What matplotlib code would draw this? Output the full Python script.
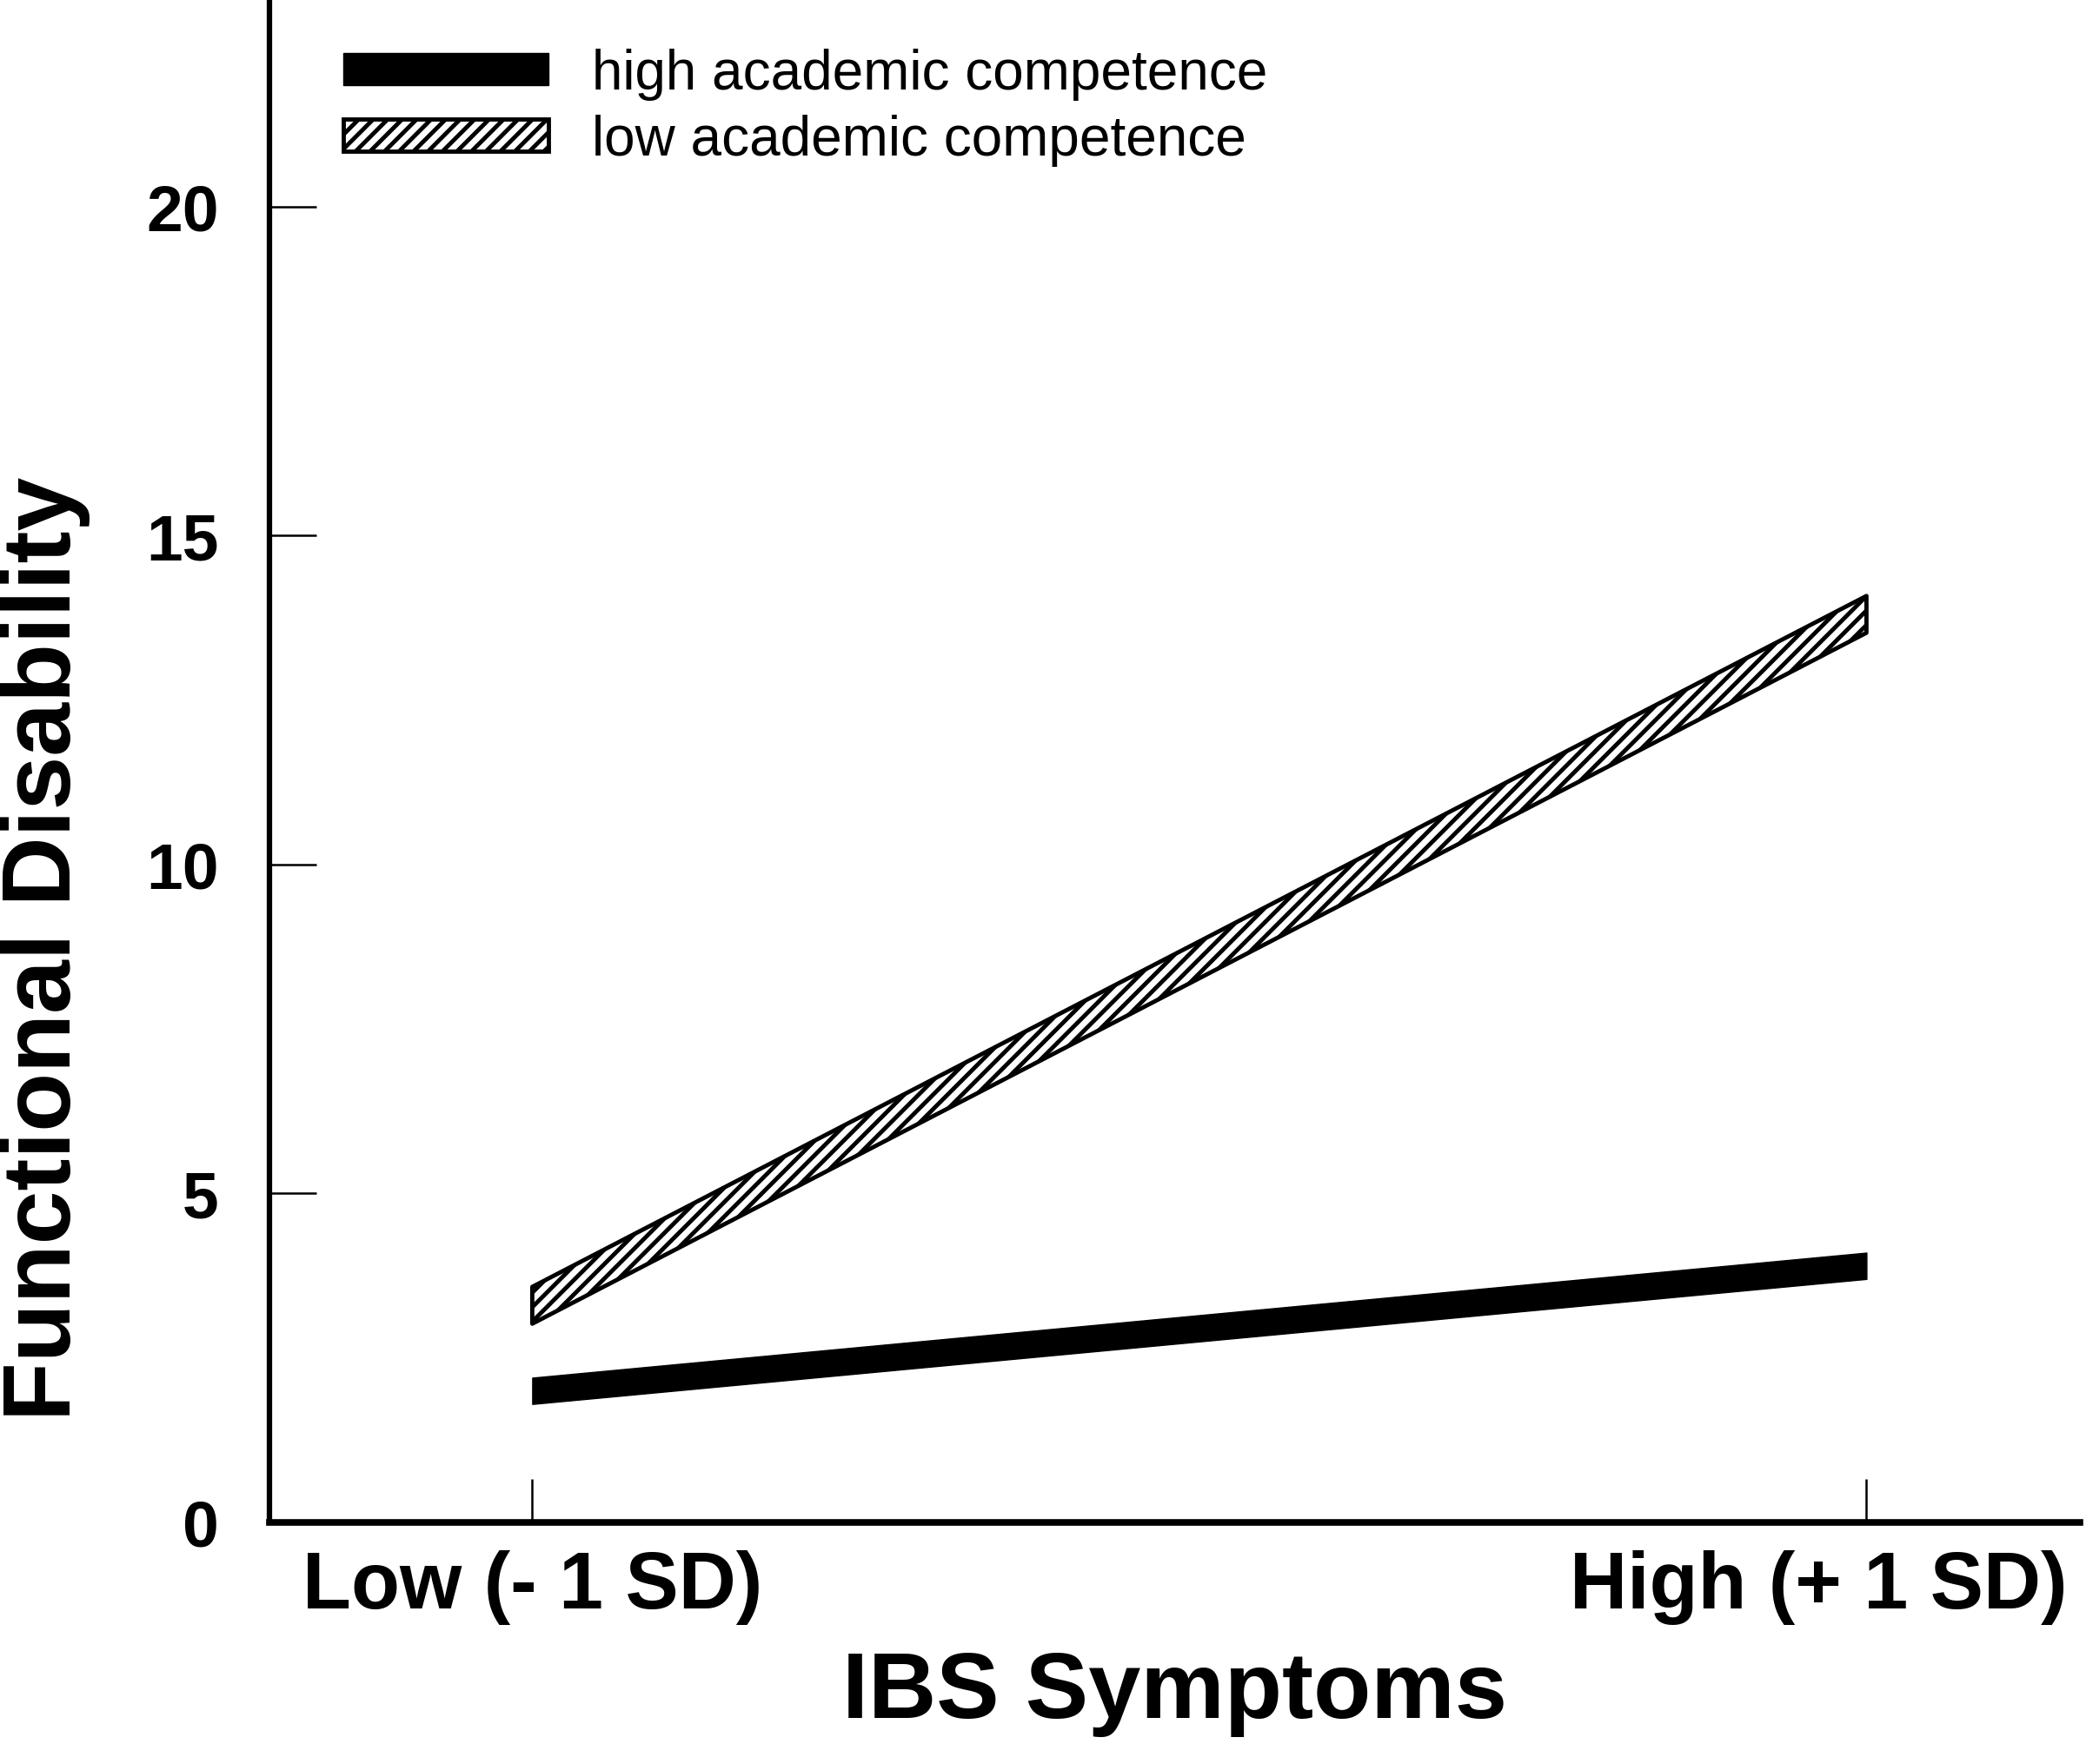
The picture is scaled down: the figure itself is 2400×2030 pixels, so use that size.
import matplotlib
matplotlib.use("Agg")
import matplotlib.pyplot as plt
from matplotlib.transforms import ScaledTranslation

# values
x_pos = [0, 1]
x_labels = ["Low (- 1 SD)", "High (+ 1 SD)"]
high_comp = [2.0, 3.9]
low_comp = [3.3, 13.8]
y_ticks = [0, 5, 10, 15, 20]

plt.rcParams["font.family"] = ["Liberation Sans", "DejaVu Sans"]
plt.rcParams["hatch.linewidth"] = 3.5

fig = plt.figure(figsize=(24, 20.31), dpi=100)
ax = fig.add_axes([310 / 2400, 1 - 1753 / 2031, (2393 - 310) / 2400, 1753 / 2031])

# thick bands for the two lines
half_hi = 0.20
half_lo = 0.28
ax.fill_between(x_pos, [v - half_hi for v in high_comp], [v + half_hi for v in high_comp],
                facecolor="black", edgecolor="black", linewidth=1,
                label="high academic competence")
ax.fill_between(x_pos, [v - half_lo for v in low_comp], [v + half_lo for v in low_comp],
                facecolor="white", edgecolor="black", hatch="//", linewidth=3.5,
                label="low academic competence")

ax.set_xlim(-0.197, 1.16)
ax.set_ylim(0, 23.15)

for s in ["top", "right"]:
    ax.spines[s].set_visible(False)
ax.spines["left"].set_linewidth(4.5)
ax.spines["bottom"].set_linewidth(5.5)

ax.set_yticks(y_ticks)
ax.set_yticklabels([str(t) for t in y_ticks], fontsize=54, fontweight="bold")
ax.tick_params(axis="y", direction="in", length=39, width=1.8, pad=42)
ax.set_xticks(x_pos)
ax.set_xticklabels(x_labels, fontsize=66, fontweight="bold")
ax.tick_params(axis="x", direction="in", length=36, width=1.8, pad=22)

# the right label sits a bit left of its tick in the original
lab = ax.get_xticklabels()[1]
lab.set_transform(lab.get_transform() + ScaledTranslation(-0.55, 0, fig.dpi_scale_trans))

ax.set_xlabel("IBS Symptoms", fontsize=78, fontweight="bold", labelpad=21)
ax.set_ylabel("Functional Disability", fontsize=80, fontweight="bold")
ax.yaxis.set_label_coords(-0.099, 0.377)

leg = ax.legend(loc="upper left", bbox_to_anchor=(395 / 2400, 1 - 56 / 2031),
                bbox_transform=fig.transFigure, frameon=False, fontsize=46,
                handlelength=3.7, handleheight=0.5, handletextpad=0.78,
                labelspacing=0.25, borderpad=0, borderaxespad=0)

fig.savefig("out.png", dpi=100)
